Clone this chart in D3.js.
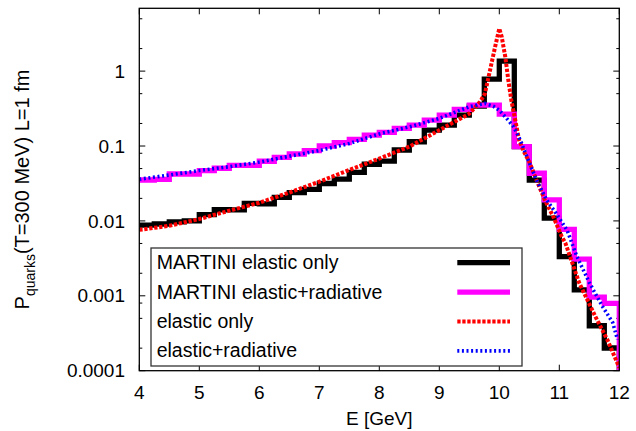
<!DOCTYPE html>
<html><head><meta charset="utf-8">
<script src="https://cdn.jsdelivr.net/npm/d3@7"></script>
<style>body{margin:0;background:#fff}svg{display:block}text{font-family:"Liberation Sans",Arial,sans-serif;fill:#000}</style>
</head><body><svg id="c" width="636" height="431"></svg>
<script>
// ---- data ----
const binEdges = [4.0,4.25,4.5,4.75,5.0,5.25,5.5,5.75,6.0,6.25,6.5,6.75,7.0,7.25,7.5,7.75,
                  8.0,8.25,8.5,8.75,9.0,9.25,9.5,9.75,10.0,10.25,10.5,10.75,11.0,11.25,11.5,11.75];
const binEnd = 12;
const martiniElastic = [0.0088,0.0091,0.0097,0.0100,0.0121,0.0141,0.0140,0.0171,0.0169,0.0206,0.0239,0.0264,
                        0.0316,0.0362,0.0446,0.0571,0.063,0.0885,0.114,0.163,0.19,0.259,0.341,0.78,
                        1.36,0.098,0.035,0.0109,0.00334,0.0012,0.000398,0.000201];
const martiniRad = [0.0352,0.0359,0.0423,0.0423,0.0468,0.0505,0.0553,0.0553,0.0626,0.0707,0.0783,0.0866,
                    0.100,0.111,0.123,0.140,0.152,0.172,0.19,0.222,0.259,0.308,0.352,0.352,
                    0.267,0.098,0.0433,0.0191,0.0077,0.00309,0.00096,0.00079];
const elasticE = [4.0,4.5,5.0,5.5,6.0,6.5,7.0,7.5,8.0,8.5,9.0,9.5,9.68,9.76,9.84,9.93,10.0,
                  10.04,10.1,10.15,10.2,10.26,10.33,10.41,10.51,10.62,10.76,10.9,11.04,11.1,11.33,11.6,11.8,12.0];
const elasticP = [0.0076,0.0086,0.0106,0.0137,0.0175,0.0239,0.0334,0.0479,0.068,0.098,0.163,0.27,0.39,0.50,0.98,2.11,3.7,
                  2.87,1.55,0.76,0.41,0.235,0.12,0.084,0.059,0.035,0.019,0.0114,0.0062,0.0051,0.0015,0.00053,0.00026,0.00011];
const radE = [4.0,4.5,5.0,5.5,6.0,6.5,7.0,7.5,8.0,8.5,9.0,9.5,9.76,9.9,10.0,10.12,10.24,10.35,10.46,
              10.62,10.79,10.96,11.13,11.29,11.5,11.72,11.89,11.97];
const radP = [0.036,0.041,0.047,0.053,0.061,0.073,0.087,0.108,0.145,0.18,0.234,0.335,0.37,0.34,0.30,0.235,0.18,0.12,0.072,
              0.035,0.019,0.0122,0.0075,0.0034,0.0015,0.00072,0.00044,0.00026];
const xTicks = [4,5,6,7,8,9,10,11,12];
const yTicks = [1e-4,1e-3,1e-2,1e-1,1];
const yTickLabels = ["0.0001","0.001","0.01","0.1","1"];
const legendLabels = ["MARTINI elastic only","MARTINI elastic+radiative","elastic only","elastic+radiative"];
const colors = ["#000000","#ff00ff","#ff0000","#0000ff"];

// ---- layout ----
const L = 139.3, R = 619.3, T = 8.3, B = 370.7;
const svg = d3.select("#c");
const x = d3.scaleLinear().domain([4, 12]).range([L, R]);
const y = d3.scaleLog().domain([1e-4, 6.9]).range([B, T]);

svg.append("clipPath").attr("id","clip").append("rect")
  .attr("x", L).attr("y", T).attr("width", R - L).attr("height", B - T);

// ticks
const g = svg.append("g");
const minor = [];
for (let e = -4; e <= 0; e++) [2,5,8].forEach(m => { const v = m * Math.pow(10, e); if (v < 6.9) minor.push(v); });
minor.forEach(v => {
  g.append("line").attr("x1", L).attr("x2", L + 3).attr("y1", y(v)).attr("y2", y(v)).attr("stroke","#000");
  g.append("line").attr("x1", R).attr("x2", R - 3).attr("y1", y(v)).attr("y2", y(v)).attr("stroke","#000");
});
yTicks.forEach((v, i) => {
  g.append("line").attr("x1", L).attr("x2", L + 6).attr("y1", y(v)).attr("y2", y(v)).attr("stroke","#000");
  g.append("line").attr("x1", R).attr("x2", R - 6).attr("y1", y(v)).attr("y2", y(v)).attr("stroke","#000");
  g.append("text").attr("x", 125).attr("y", y(v)).attr("dy", "0.35em").attr("text-anchor","end")
    .style("font-size","19px").text(yTickLabels[i]);
});
xTicks.forEach(v => {
  g.append("line").attr("x1", x(v)).attr("x2", x(v)).attr("y1", B).attr("y2", B - 6).attr("stroke","#000");
  g.append("line").attr("x1", x(v)).attr("x2", x(v)).attr("y1", T).attr("y2", T + 6).attr("stroke","#000");
  g.append("text").attr("x", x(v)).attr("y", 398.5).attr("text-anchor","middle")
    .style("font-size","19px").text(v);
});

// axis labels
svg.append("text").attr("x", (L + R) / 2).attr("y", 425).attr("text-anchor","middle")
  .style("font-size","19px").text("E [GeV]");
const yl = svg.append("text").attr("transform", `translate(29,${(T + B) / 2}) rotate(-90)`)
  .attr("text-anchor","middle").style("font-size","20px");
yl.append("tspan").text("P");
yl.append("tspan").attr("dy", 6).style("font-size","14px").text("quarks");
yl.append("tspan").attr("dy", -6).text("(T=300 MeV) L=1 fm");

// curves
const plot = svg.append("g").attr("clip-path","url(#clip)");
function histData(vals) {
  const d = binEdges.map((e, i) => [e, vals[i]]);
  d.push([binEnd, vals[vals.length - 1]]);
  d.push([binEnd, 1e-6]);
  return d;
}
const stepLine = d3.line().x(d => x(d[0])).y(d => y(d[1])).curve(d3.curveStepAfter);
const line = d3.line().x(d => x(d[0])).y(d => y(d[1]));

plot.append("path").attr("d", stepLine(histData(martiniElastic))).attr("fill","none")
  .attr("stroke", colors[0]).attr("stroke-width", 5.3).attr("stroke-linejoin","miter");
plot.append("path").attr("d", stepLine(histData(martiniRad))).attr("fill","none")
  .attr("stroke", colors[1]).attr("stroke-width", 5.3).attr("stroke-linejoin","miter");
plot.append("path").attr("d", line(elasticE.map((e, i) => [e, elasticP[i]]))).attr("fill","none")
  .attr("stroke", colors[2]).attr("stroke-width", 4).attr("stroke-dasharray","3.3,1.7");
plot.append("path").attr("d", line(radE.map((e, i) => [e, radP[i]]))).attr("fill","none")
  .attr("stroke", colors[3]).attr("stroke-width", 3.6).attr("stroke-dasharray","2,2.6");

// frame
svg.append("rect").attr("x", L).attr("y", T).attr("width", R - L).attr("height", B - T)
  .attr("fill","none").attr("stroke","#000").attr("stroke-width", 1.3);

// legend
const lg = svg.append("g");
lg.append("rect").attr("x", 151).attr("y", 248).attr("width", 371).attr("height", 118)
  .attr("fill","#fff").attr("stroke","#333").attr("stroke-width", 1.3);
const styles = [
  {w:5.3, dash:null}, {w:5.3, dash:null}, {w:4, dash:"3.3,1.7"}, {w:3.6, dash:"2,2.6"}
];
legendLabels.forEach((t, i) => {
  const cy = 262.7 + i * 29.4;
  lg.append("text").attr("x", 156.7).attr("y", cy + 6.5).style("font-size","19.5px").text(t);
  const ln = lg.append("line").attr("x1", 457.3).attr("x2", 510).attr("y1", cy).attr("y2", cy)
    .attr("stroke", colors[i]).attr("stroke-width", styles[i].w);
  if (styles[i].dash) ln.attr("stroke-dasharray", styles[i].dash);
});
</script></body></html>
